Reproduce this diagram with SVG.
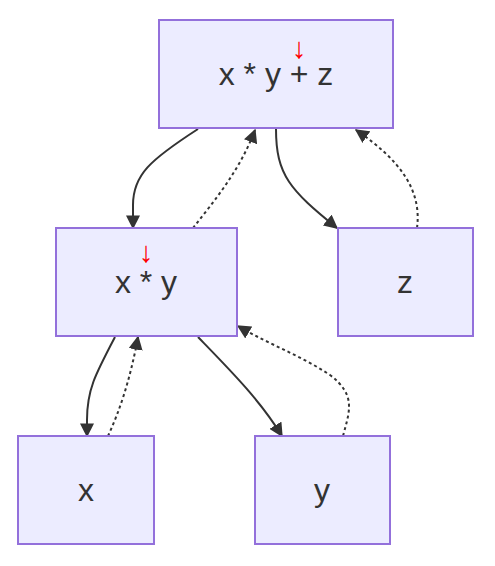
<svg xmlns="http://www.w3.org/2000/svg" width="495" height="566" viewBox="0 0 495 566">
<style>
.node rect{fill:#ECECFF;stroke:#9370DB;stroke-width:2}
.label{font-family:"Liberation Sans",Arial,sans-serif;font-size:32px;fill:#333;text-anchor:middle}
.mark{font-family:"Liberation Sans","DejaVu Sans",sans-serif;font-size:29px;fill:#ff0000;text-anchor:middle}
.edge{fill:none;stroke:#333;stroke-width:2}
.dotted{stroke-dasharray:3 3}
</style>
<defs>
<marker id="ah" viewBox="0 0 10 10" refX="9" refY="5" markerUnits="userSpaceOnUse" markerWidth="14" markerHeight="14" orient="auto">
<path d="M0,0 L10,5 L0,10 z" fill="#333"/>
</marker>
</defs>
<rect width="495" height="566" fill="#fff"/>
<g id="edges">
<path class="edge" d="M198,129 C150,160 133,175 133,205 L133,228" marker-end="url(#ah)"/>
<path class="edge dotted" d="M193,228 C215,200 240,170 255,130" marker-end="url(#ah)"/>
<path class="edge" d="M276,129 C276,175 290,190 337,228" marker-end="url(#ah)"/>
<path class="edge dotted" d="M417,228 C422,190 400,160 356,130" marker-end="url(#ah)"/>
<path class="edge" d="M115,337 C95,375 87,390 87,420 L87,436" marker-end="url(#ah)"/>
<path class="edge dotted" d="M108,436 C120,410 130,380 138,337" marker-end="url(#ah)"/>
<path class="edge" d="M198,337 C230,370 260,400 282,436" marker-end="url(#ah)"/>
<path class="edge dotted" d="M343,436 C350,410 356,395 330,375 C300,355 270,345 238,326" marker-end="url(#ah)"/>
</g>
<g id="node-top" class="node">
<rect x="159" y="20" width="234" height="108"/>
<text class="label" x="276" y="85">x * y + z</text>
<text class="mark" x="299" y="58">↓</text>
</g>
<g id="node-xy" class="node">
<rect x="56" y="228" width="181" height="108"/>
<text class="label" x="146" y="293">x * y</text>
<text class="mark" x="146" y="262">↓</text>
</g>
<g id="node-z" class="node">
<rect x="338" y="228" width="135" height="108"/>
<text class="label" x="405" y="293">z</text>
</g>
<g id="node-x" class="node">
<rect x="18" y="436" width="136" height="108"/>
<text class="label" x="86" y="501">x</text>
</g>
<g id="node-y" class="node">
<rect x="255" y="436" width="135" height="108"/>
<text class="label" x="322" y="501">y</text>
</g>
</svg>
